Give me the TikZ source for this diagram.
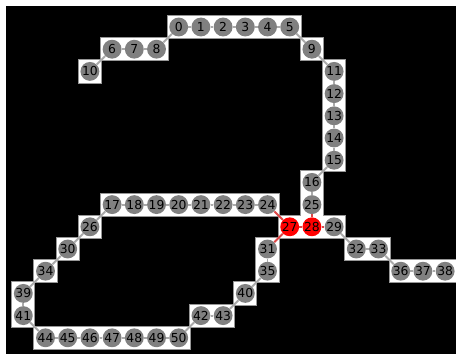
\documentclass[tikz,border=0pt]{standalone}
\usepackage{fontspec}
\setmainfont{DejaVu Sans}
\usepackage{xcolor}
\usetikzlibrary{positioning}

\definecolor{linkgray}{RGB}{170,170,170}
\definecolor{linkred}{RGB}{222,70,70}
\definecolor{rimgray}{RGB}{150,150,150}

% node / column / row of every occupied cell
\def\cells{0/7/0, 1/8/0, 2/9/0, 3/10/0, 4/11/0, 5/12/0,
  6/4/1, 7/5/1, 8/6/1, 9/13/1, 10/3/2, 11/14/2,
  12/14/3, 13/14/4, 14/14/5, 15/14/6, 16/13/7,
  17/4/8, 18/5/8, 19/6/8, 20/7/8, 21/8/8, 22/9/8, 23/10/8, 24/11/8, 25/13/8,
  26/3/9, 27/12/9, 28/13/9, 29/14/9,
  30/2/10, 31/11/10, 32/15/10, 33/16/10,
  34/1/11, 35/11/11, 36/17/11, 37/18/11, 38/19/11,
  39/0/12, 40/10/12, 41/0/13, 42/8/13, 43/9/13,
  44/1/14, 45/2/14, 46/3/14, 47/4/14, 48/5/14, 49/6/14, 50/7/14}

\begin{document}
\begin{tikzpicture}[
  x=6mm, y=-6mm,
  font=\fontsize{9.5}{11}\selectfont,
  vtx/.style={circle, fill=gray, minimum size=5.1mm, inner sep=0pt},
  hot/.style={vtx, fill=red},
  link/.style={draw=linkgray, line width=1.5pt},
  hotlink/.style={draw=linkred, line width=1.5pt},
]
\useasboundingbox (-1.05,-1.216) rectangle (19.49,14.73);
\fill[white] (-1.05,-1.216) rectangle (19.49,14.73);
\fill[black] (-0.78,-0.946) rectangle (19.49,14.73);

% the occupied cells, with a thin rim round the whole region
\foreach \n/\c/\r in \cells
  \fill[rimgray] (\c-0.545,\r-0.545) rectangle (\c+0.545,\r+0.545);
\foreach \n/\c/\r in \cells
  \fill[white] (\c-0.5,\r-0.5) rectangle (\c+0.5,\r+0.5);

\foreach \n/\c/\r in \cells {
  \def\sty{vtx}
  \ifnum\n=27 \def\sty{hot}\fi
  \ifnum\n=28 \def\sty{hot}\fi
  \node[\sty] (v\n) at (\c,\r) {\n};
}

% grey links
\foreach \a/\b in {0/1, 1/2, 2/3, 3/4, 4/5, 5/9, 9/11, 11/12, 12/13, 13/14,
    14/15, 15/16, 16/25, 0/8, 6/7, 7/8, 6/10,
    17/18, 18/19, 19/20, 20/21, 21/22, 22/23, 23/24,
    17/26, 26/30, 30/34, 34/39, 39/41, 41/44,
    44/45, 45/46, 46/47, 47/48, 48/49, 49/50, 50/42, 42/43, 43/40, 40/35, 35/31,
    29/32, 32/33, 33/36, 36/37, 37/38}
  \draw[link] (v\a) -- (v\b);

% links at the red pair
\foreach \a/\b in {24/27, 27/28, 28/29, 25/28, 27/31}
  \draw[hotlink] (v\a) -- (v\b);

\end{tikzpicture}
\end{document}
